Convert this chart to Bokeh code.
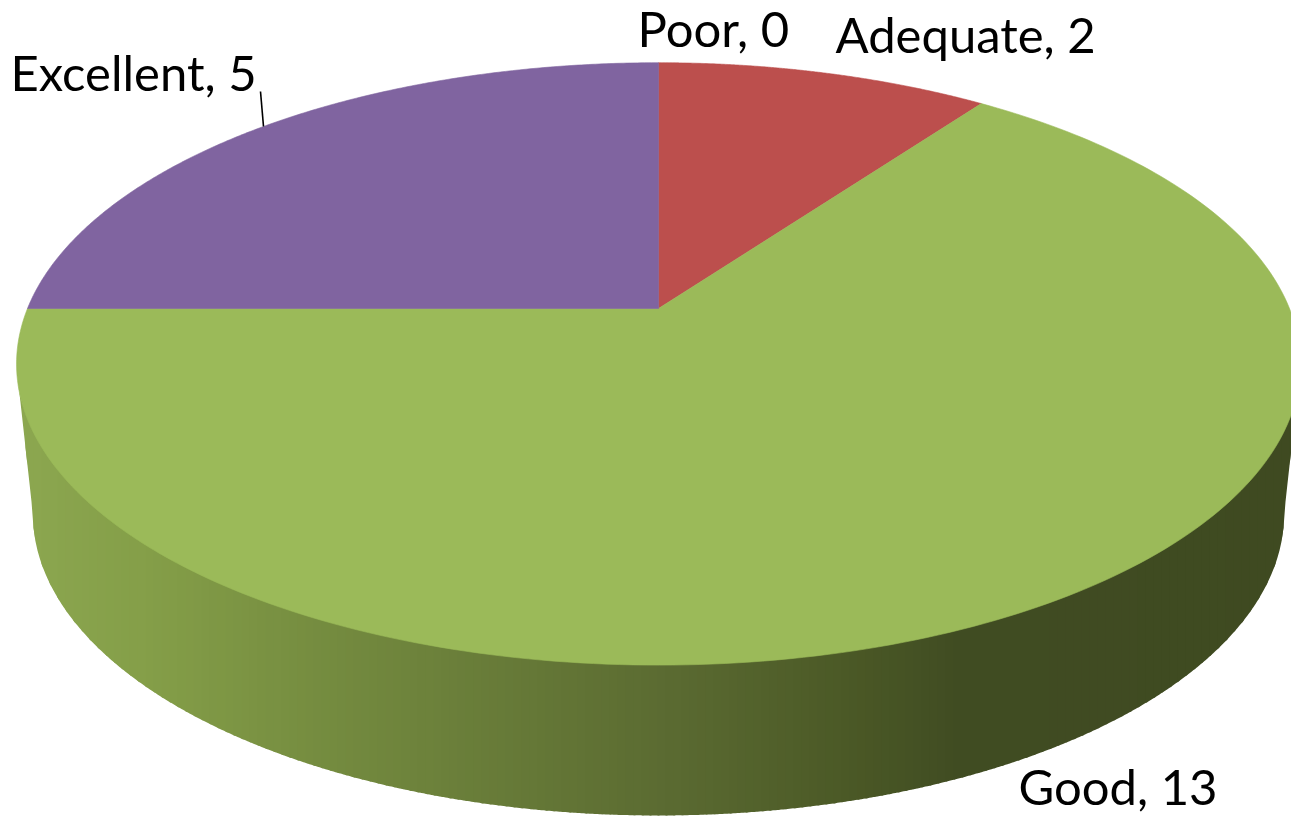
import numpy as np
from bokeh.plotting import figure
from bokeh.models import Range1d
from bokeh.core.properties import value
from bokeh.embed import file_html
from bokeh.resources import INLINE

# data
categories = ["Poor", "Adequate", "Good", "Excellent"]
values = [0, 2, 13, 5]
colors = ["#4F81BD", "#BC4F4D", "#9BBA59", "#8064A0"]

# label placement: left x, y of the text anchor (vertical middle)
label_x = [637, 835, 1018, 10]
label_y = [27, 33, 785, 71]
FONT = "Lato"
FONT_SIZE = "49px"

# perspective disc geometry (reference pixels)
CX = 658.0
TOP_Y, BOT_Y = 308.0, 457.5
TOP_A, BOT_A = 631.0, 615.0
TOP_B, BOT_B = 291.0, 291.7
K = 0.184

def rim(theta, cy, a, b):
    d = 1 + K * np.cos(theta)
    return CX + a * np.sin(theta) / d, cy - b * np.cos(theta) / d

def lower_edge(x, cy, a, b):
    ea = a / (1 - K * K) ** 0.5
    eb = b / (1 - K * K)
    ec = cy + K * eb
    t = np.clip((x - CX) / ea, -1, 1)
    return ec + eb * np.sqrt(1 - t * t), ea

W, H = 1291, 817
p = figure(width=W, height=H, output_backend="svg", toolbar_location=None,
           x_range=Range1d(0, W), y_range=Range1d(H, 0),
           min_border=0, outline_line_color=None, background_fill_color="white")
p.axis.visible = False
p.grid.visible = False

# side wall: vertical strips with a horizontal shade gradient
stop_x = [16, 150, 330, 674, 846, 960, 1310]
stop_r = [0x8C, 0x84, 0x74, 0x5A, 0x4B, 0x40, 0x3F]
stop_g = [0xA7, 0x9E, 0x8B, 0x6A, 0x59, 0x4C, 0x4A]
stop_b = [0x50, 0x48, 0x3F, 0x31, 0x26, 0x22, 0x21]
edges = np.arange(17, 1312, 8.0)
xs, ys, cols = [], [], []
for x0, x1 in zip(edges[:-1], edges[1:]):
    px = np.linspace(x0, x1 + 2, 6)
    top, _ = lower_edge(px, TOP_Y, TOP_A, TOP_B)
    bot, ea = lower_edge(px, BOT_Y, BOT_A, BOT_B)
    left = CX - ea
    right = CX + ea
    # beyond the lower rim the silhouette runs straight up to the upper rim
    slope = 138 / (left - 17)
    bot = np.where(px < left, 513 + (px - left) * slope, bot)
    bot = np.where(px > right, 513 - (px - right) * slope, bot)
    bot = np.maximum(bot, top)
    overlap = np.clip((px - 17) * 0.3, 0, 4)
    xs.append(np.concatenate([px, px[::-1]]).tolist())
    ys.append(np.concatenate([top - overlap, bot[::-1]]).tolist())
    xm = (x0 + x1) / 2
    c = (np.interp(xm, stop_x, stop_r), np.interp(xm, stop_x, stop_g), np.interp(xm, stop_x, stop_b))
    cols.append("#%02x%02x%02x" % tuple(int(round(v)) for v in c))
p.patches(xs, ys, fill_color=cols, line_color=None)

# top surface slices
total = sum(values)
start = 0.0
for v, c in zip(values, colors):
    end = start + v / total * 2 * np.pi
    if v > 0:
        th = np.linspace(start, end, 240)
        rx, ry = rim(th, TOP_Y, TOP_A, TOP_B)
        p.patch(np.r_[CX, rx].tolist(), np.r_[TOP_Y, ry].tolist(),
                fill_color=c, line_color=c, line_width=0.6)
    start = end

# leader line for the Excellent label
p.line([260, 263], [91, 126], line_color="black", line_width=1.6)

# labels
labels = [f"{c}, {v}" for c, v in zip(categories, values)]
p.text(label_x, label_y, text=labels, text_font=value(FONT), text_font_size=value(FONT_SIZE),
       text_color="black", text_align="left", text_baseline="middle")

open("out.html", "w").write(file_html(p, INLINE))
